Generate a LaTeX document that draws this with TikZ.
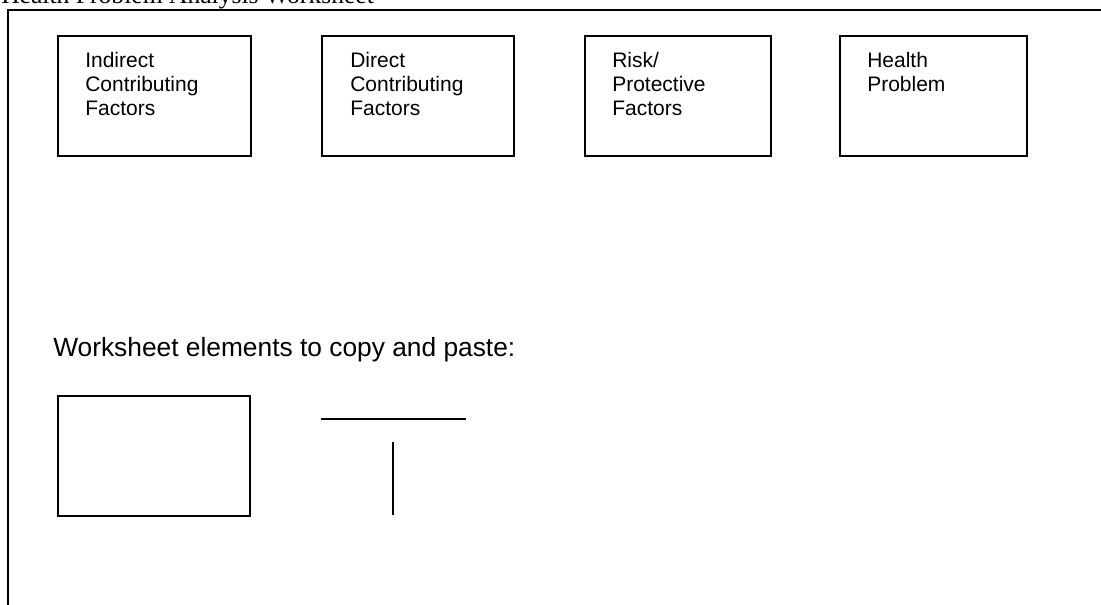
\documentclass[tikz,border=0pt]{standalone}
\usepackage{fontspec}
\setmainfont{Liberation Sans}
\newfontfamily\titlefont{Liberation Serif}
\usetikzlibrary{positioning}
\tikzset{
  factorbox/.style={draw, line width=1.5pt, anchor=north west, inner sep=0pt, minimum height=90pt},
  factortext/.style={anchor=north west, inner sep=0pt, align=left, font=\fontsize{15.75}{18}\selectfont},
  rule/.style={line width=1.5pt},
}

\begin{document}
\begin{tikzpicture}[x=0.75pt, y=-0.75pt]
    \useasboundingbox (0,0) rectangle (1101,605);
    \clip (0,0) rectangle (1101,605);
    % title, cut off at the top of the page
    \node[anchor=base west, inner sep=0pt, font=\titlefont\fontsize{19.2}{22}\selectfont] (title) at (1,4) {Health Problem Analysis Worksheet};
    % frame
    \coordinate (frame bl) at (8,640);
    \coordinate (frame tl) at (8,10);
    \coordinate (frame tr) at (1140,10);
    \draw[rule] (frame bl) -- (frame tl) -- (frame tr);
    % the four factor boxes
    \node[factorbox, minimum width=144.75pt] (indirect) at (57,35) {};
    \node[factorbox, minimum width=144pt] (direct) at (321,35) {};
    \node[factorbox, minimum width=139.5pt] (risk) at (584,35) {};
    \node[factorbox, minimum width=140.25pt] (health) at (839,35) {};
    \node[factortext] (indirect text) at (85,52) {Indirect\\Contributing\\Factors};
    \node[factortext] (direct text) at (350,52) {Direct\\Contributing\\Factors};
    \node[factortext] (risk text) at (612,52) {Risk/\\Protective\\Factors};
    \node[factortext] (health text) at (867,52) {Health\\Problem};
    % elements to copy
    \node[anchor=base west, inner sep=0pt, font=\fontsize{19.75}{22}\selectfont] (copy text) at (53,357) {Worksheet elements to copy and paste:};
    \node[factorbox, minimum width=144pt] (blank box) at (57,395) {};
    \coordinate (hline a) at (321,419);
    \coordinate (hline b) at (466,419);
    \draw[rule] (hline a) -- (hline b);
    \coordinate (vline a) at (393,442);
    \coordinate (vline b) at (393,515);
    \draw[rule] (vline a) -- (vline b);
\end{tikzpicture}
\end{document}
